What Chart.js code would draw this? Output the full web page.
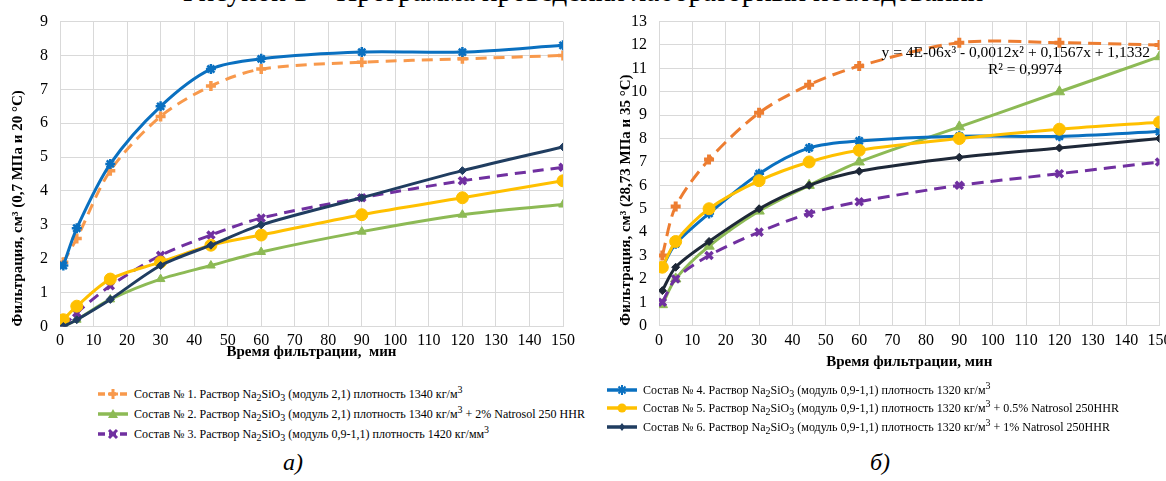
<!DOCTYPE html>
<html lang="ru">
<head>
<meta charset="utf-8">
<title>Программа проведения лабораторных исследований</title>
<script src="https://cdn.jsdelivr.net/npm/chart.js@4.4.1/dist/chart.umd.min.js"></script>
<style>
  html, body { margin: 0; padding: 0; background: #fff; }
  body {
    width: 1166px; height: 481px; overflow: hidden; position: relative;
    font-family: "Liberation Serif", "DejaVu Serif", serif; color: #000;
  }
  #fig-title {
    position: absolute; left: 0; width: 1166px; top: -25px;
    text-align: center; font-size: 29px; white-space: nowrap;
  }
  #chart-a { position: absolute; left: 0; top: 0; }
  #chart-b { position: absolute; left: 580px; top: 0; }
  .legend-row {
    position: absolute; white-space: nowrap; display: flex; align-items: center;
    height: 16px; font-size: 12px;
  }
  .legend-row svg { margin-right: 6px; flex: none; }
  .caption { position: absolute; font-size: 24px; font-style: italic; transform: translateX(-50%); }
  .trend { position: absolute; font-size: 15.5px; white-space: nowrap; line-height: 17px; }
</style>
</head>
<body>
<div id="fig-title">Рисунок 1 – Программа проведения лабораторных исследований</div>
<canvas id="chart-a" width="580" height="380"></canvas>
<canvas id="chart-b" width="600" height="400"></canvas>
<div class="trend" style="right:16px; top:43px;">y = 4E-06x³ - 0,0012x² + 0,1567x + 1,1332</div>
<div class="trend" style="right:104px; top:60px;">R² = 0,9974</div>
<div id="legend"></div>
<div class="caption" style="left:293px; top:449px;">а)</div>
<div class="caption" style="left:880px; top:449px;">б)</div>

<script>
"use strict";

// ── Data ──────────────────────────────────────────────────────────────────
const TIME = [1, 5, 15, 30, 45, 60, 90, 120, 150];

// chart а) — 0,7 МПа и 20 °С
const A_S1 = [1.9, 2.6, 4.6, 6.2, 7.1, 7.6, 7.8, 7.9, 8.0];
const A_S2 = [0.0, 0.2, 0.8, 1.4, 1.8, 2.2, 2.8, 3.3, 3.6];
const A_S3 = [0.0, 0.4, 1.2, 2.1, 2.7, 3.2, 3.8, 4.3, 4.7];
const A_S4 = [1.8, 2.9, 4.8, 6.5, 7.6, 7.9, 8.1, 8.1, 8.3];
const A_S5 = [0.2, 0.6, 1.4, 1.9, 2.4, 2.7, 3.3, 3.8, 4.3];
const A_S6 = [0.0, 0.2, 0.8, 1.8, 2.4, 3.0, 3.8, 4.6, 5.3];

// chart б) — 28,73 МПа и 35 °С
const B_S1 = [3.0, 5.1, 7.1, 9.1, 10.3, 11.1, 12.1, 12.1, 12.0];
const B_S2 = [0.9, 2.0, 3.4, 4.9, 6.0, 7.0, 8.5, 10.0, 11.5];
const B_S3 = [1.0, 2.0, 3.0, 4.0, 4.8, 5.3, 6.0, 6.5, 7.0];
const B_S4 = [2.5, 3.5, 4.8, 6.5, 7.6, 7.9, 8.1, 8.1, 8.3];
const B_S5 = [2.5, 3.6, 5.0, 6.2, 7.0, 7.5, 8.0, 8.4, 8.7];
const B_S6 = [1.5, 2.5, 3.6, 5.0, 6.0, 6.6, 7.2, 7.6, 8.0];

const X_TITLE_A = "Время фильтрации,  мин";
const X_TITLE_B = "Время фильтрации, мин";
const Y_TITLE_A = "Фильтрация, см³ (0,7 МПа и 20 °С)";
const Y_TITLE_B = "Фильтрация, см³ (28,73 МПа и 35 °С)";

const LEGEND_LABELS = [
  "Состав № 1. Раствор Na<sub>2</sub>SiO<sub>3</sub> (модуль 2,1) плотность 1340 кг/м<sup>3</sup>",
  "Состав № 2. Раствор Na<sub>2</sub>SiO<sub>3</sub> (модуль 2,1) плотность 1340 кг/м<sup>3</sup> + 2% Natrosol 250 HHR",
  "Состав № 3. Раствор Na<sub>2</sub>SiO<sub>3</sub> (модуль 0,9-1,1) плотность 1420 кг/мм<sup>3</sup>",
  "Состав № 4. Раствор Na<sub>2</sub>SiO<sub>3</sub> (модуль 0,9-1,1) плотность 1320 кг/м<sup>3</sup>",
  "Состав № 5. Раствор Na<sub>2</sub>SiO<sub>3</sub> (модуль 0,9-1,1) плотность 1320 кг/м<sup>3</sup> + 0.5% Natrosol 250HHR",
  "Состав № 6. Раствор Na<sub>2</sub>SiO<sub>3</sub> (модуль 0,9-1,1) плотность 1320 кг/м<sup>3</sup> + 1% Natrosol 250HHR",
];

// ── Styles per series (Excel-ish palette) ─────────────────────────────────
const STYLE_A = [
  { color: "#F8994C", dash: [11, 7], point: "cross",    r: 5, pw: 3.5 },
  { color: "#8DBA55", dash: [],      point: "triangle", r: 5, pw: 1 },
  { color: "#7030A0", dash: [11, 7], point: "crossRot", r: 5, pw: 3.5 },
  { color: "#0A70C0", dash: [],      point: "star",     r: 5, pw: 2.5 },
  { color: "#FFC000", dash: [],      point: "circle",   r: 6, pw: 1 },
  { color: "#203D60", dash: [],      point: "rectRot",  r: 4, pw: 1 },
];
const STYLE_B = [
  { color: "#ED7D31", dash: [13, 7], point: "cross",    r: 5, pw: 4 },
  { color: "#8DBA55", dash: [],      point: "triangle", r: 6, pw: 1 },
  { color: "#7030A0", dash: [12, 7], point: "crossRot", r: 5, pw: 3.5 },
  { color: "#0A70C0", dash: [],      point: "star",     r: 5, pw: 2.5 },
  { color: "#FFC000", dash: [],      point: "circle",   r: 6, pw: 1 },
  { color: "#1E2838", dash: [],      point: "rectRot",  r: 4, pw: 1 },
];

const FONT = "'Liberation Serif', 'DejaVu Serif', serif";
const GRID = "#d9d9d9";

Chart.defaults.font.family = FONT;
Chart.defaults.color = "#000";

// ── Dataset helper ─────────────────────────────────────────────────────────
function series(values, st) {
  return {
    data: values.map((y, i) => ({ x: TIME[i], y })),
    borderColor: st.color,
    backgroundColor: st.color,
    borderWidth: 3,
    borderDash: st.dash,
    tension: 0.3,
    pointStyle: st.point,
    pointRadius: st.r,
    pointBorderWidth: st.pw,
    pointBackgroundColor: st.color,
    pointBorderColor: st.color,
  };
}

// ── Chart builder ──────────────────────────────────────────────────────────
function drawChart(canvasId, seriesList, styles, cfg) {
  // Excel puts the last series on top; Chart.js puts dataset 0 on top
  const datasets = seriesList.map((s, i) => series(s, styles[i])).reverse();

  return new Chart(document.getElementById(canvasId), {
    type: "line",
    data: { datasets },
    options: {
      responsive: false,
      animation: false,
      layout: { padding: cfg.padding },
      plugins: { legend: { display: false }, tooltip: { enabled: false } },
      scales: {
        x: {
          type: "linear",
          min: 0, max: 150,
          grid: { color: GRID, drawTicks: false },
          border: { color: GRID },
          ticks: { stepSize: 10, padding: 5, maxRotation: 0, font: { family: FONT, size: 16 } },
          title: {
            display: true, text: cfg.xTitle, padding: 0,
            font: { family: FONT, size: 15, weight: "bold" },
          },
          afterFit: s => { s.height = cfg.xHeight; },
        },
        y: {
          min: 0, max: cfg.yMax,
          grid: { color: GRID, drawTicks: false },
          border: { color: GRID },
          ticks: { stepSize: 1, padding: 12, font: { family: FONT, size: 16 } },
          title: {
            display: true, text: cfg.yTitle, align: "start",
            padding: { top: cfg.yTitlePad, bottom: 0 },
            font: { family: FONT, size: 15, weight: "bold" },
          },
          afterFit: s => { s.width = cfg.yWidth; },
        },
      },
    },
  });
}

drawChart("chart-a", [A_S1, A_S2, A_S3, A_S4, A_S5, A_S6], STYLE_A, {
  padding: { top: 15, right: 16, bottom: 19, left: 0 },
  xHeight: 34.5, yWidth: 60, yMax: 9, yTitlePad: 9,
  xTitle: X_TITLE_A, yTitle: Y_TITLE_A,
});

drawChart("chart-b", [B_S1, B_S2, B_S3, B_S4, B_S5, B_S6], STYLE_B, {
  padding: { top: 15.7, right: 20.5, bottom: 29, left: 0 },
  xHeight: 45.3, yWidth: 79, yMax: 13, yTitlePad: 37,
  xTitle: X_TITLE_B, yTitle: Y_TITLE_B,
});

// ── Legend (HTML, two columns) ─────────────────────────────────────────────
function markerSvg(st) {
  const c = st.color;
  const dash = st.dash.length ? ` stroke-dasharray="7 4"` : "";
  let m = "";
  switch (st.point) {
    case "cross":
      m = `<path d="M15 2V12M10 7H20" stroke="${c}" stroke-width="3"/>`; break;
    case "triangle":
      m = `<polygon points="15,2 20,11 10,11" fill="${c}"/>`; break;
    case "crossRot":
      m = `<path d="M11 3L19 11M19 3L11 11" stroke="${c}" stroke-width="3"/>`; break;
    case "star":
      m = `<path d="M15 2V12M10 7H20M11.5 3.5L18.5 10.5M18.5 3.5L11.5 10.5" stroke="${c}" stroke-width="2"/>`; break;
    case "circle":
      m = `<circle cx="15" cy="7" r="4.5" fill="${c}"/>`; break;
    default:
      m = `<polygon points="15,3 18,7 15,11 12,7" fill="${c}"/>`;
  }
  return `<svg width="30" height="14" viewBox="0 0 30 14">` +
    `<line x1="0" y1="7" x2="30" y2="7" stroke="${c}" stroke-width="3.5"${dash}/>${m}</svg>`;
}

const LEGEND_POS = [
  { left: 98,  top: 386 }, { left: 98,  top: 406 }, { left: 98,  top: 426 },
  { left: 607, top: 382 }, { left: 607, top: 400 }, { left: 607, top: 419 },
];
const LEGEND_STYLE = [STYLE_A[0], STYLE_A[1], STYLE_A[2], STYLE_B[3], STYLE_B[4], STYLE_A[5]];

const legend = document.getElementById("legend");
LEGEND_LABELS.forEach((label, i) => {
  const row = document.createElement("div");
  row.className = "legend-row";
  row.style.left = LEGEND_POS[i].left + "px";
  row.style.top = LEGEND_POS[i].top + "px";
  row.innerHTML = markerSvg(LEGEND_STYLE[i]) + `<span>${label}</span>`;
  legend.appendChild(row);
});
</script>
</body>
</html>
